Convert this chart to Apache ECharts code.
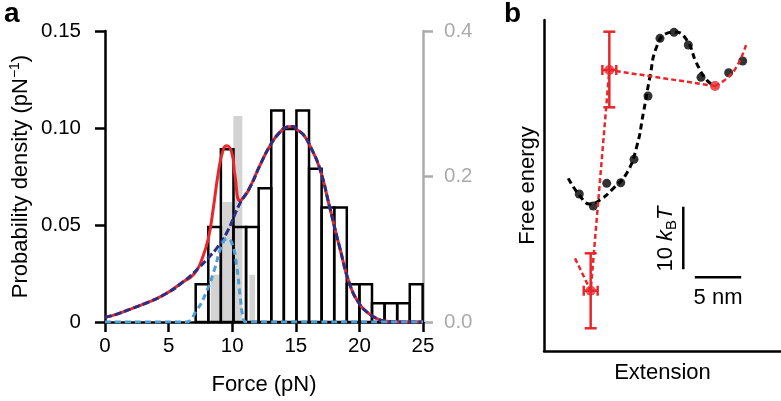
<!DOCTYPE html>
<html>
<head>
<meta charset="utf-8">
<script src="https://cdn.jsdelivr.net/npm/echarts@6.0.0/dist/echarts.min.js"></script>
<style>
html,body{margin:0;padding:0;background:#fff}
#chart{width:781px;height:401px}
</style>
</head>
<body>
<div id="chart"></div>
<script>
// ---- panel a : force histogram + fits ----
var binEdges = [7.13, 8.12, 9.11, 10.1, 11.09, 12.08, 13.07, 14.06, 15.05, 16.04, 17.03, 18.02, 19.01, 20.0, 20.99, 21.98, 22.97, 23.96, 24.97];
var binDensity = [0.0195, 0.049, 0.089, 0.049, 0.049, 0.069, 0.109, 0.0995, 0.109, 0.079, 0.059, 0.059, 0.0195, 0.0195, 0.0097, 0.0097, 0.0097, 0.0195];
// grey histogram on the right axis: [from, to, value]
var greyBins = [[8.31, 9.09, 0.065], [9.25, 10.04, 0.165], [10.09, 10.8, 0.283], [11.35, 11.79, 0.065]];

var totalX = [0, 1, 2.2, 3.5, 4.85, 6.16, 6.68, 7.2, 7.6, 8.12, 8.51, 8.91, 9.3, 9.57, 9.96, 10.22, 10.61, 11.0, 11.4, 12.2, 12.97, 13.7, 14.41, 14.8, 15.07, 15.6, 16.12, 16.9, 17.69, 18.47, 19.26, 20.05, 20.7, 21.3, 22, 23, 24, 25];
var totalY = [0.0024, 0.0042, 0.0072, 0.0105, 0.0148, 0.0208, 0.0228, 0.0265, 0.032, 0.043, 0.0584, 0.0771, 0.089, 0.0908, 0.0874, 0.0754, 0.0626, 0.065, 0.0695, 0.081, 0.0908, 0.0975, 0.1007, 0.1008, 0.0993, 0.0965, 0.0908, 0.0788, 0.0584, 0.0379, 0.0191, 0.0089, 0.0046, 0.002, 0.0005, 0, 0, 0];

var broadX = [0, 1, 2.2, 3.5, 4.85, 6.16, 7.47, 8.25, 8.78, 9.57, 10.6, 11.4, 12.2, 12.97, 13.7, 14.41, 14.8, 15.07, 15.6, 16.12, 16.9, 17.69, 18.47, 19.26, 20.05, 20.7, 21.3, 22, 23, 24, 25];
var broadY = [0.0024, 0.0042, 0.0072, 0.0105, 0.0148, 0.0208, 0.0285, 0.034, 0.038, 0.046, 0.061, 0.0695, 0.081, 0.0908, 0.0975, 0.1007, 0.1008, 0.0993, 0.0965, 0.0908, 0.0788, 0.0584, 0.0379, 0.0191, 0.0089, 0.0046, 0.002, 0.0005, 0, 0, 0];

var narrowX = [0, 6.3, 7.2, 8.0, 8.65, 9.1, 9.6, 9.96, 10.35, 10.61, 10.87, 11.1, 25];
var narrowY = [0, 0, 0.006, 0.016, 0.028, 0.038, 0.043, 0.041, 0.029, 0.014, 0.002, 0, 0];

// ---- panel b : free energy landscape (nm, kBT) ----
var dotX = [3.80, 5.31, 6.76, 8.27, 9.70, 11.21, 12.50, 14.01, 15.55, 16.92, 19.90, 21.41];
var dotY = [25.08, 23.16, 26.79, 26.88, 30.62, 40.73, 49.95, 50.91, 48.88, 43.72, 44.46, 46.33];
var curveX = [2.62, 3.80, 4.96, 6.03, 7.47, 8.91, 9.99, 10.70, 11.42, 12.14, 13.22, 14.12, 15.38, 16.45, 17.53, 18.43];
var curveY = [27.59, 24.92, 23.48, 24.12, 25.99, 28.39, 32.64, 37.97, 43.82, 48.61, 50.75, 50.96, 49.68, 45.96, 43.29, 42.33];
// red states: x, y, x error, y low, y high
var redStates = [[5.03, 9.63, 0.75, 3.63, 15.61], [7.04, 44.89, 0.75, 38.93, 51.01], [18.43, 42.33, 0, 42.33, 42.33]];
var redPath = [[3.34, 14.8], [5.03, 9.63], [7.04, 44.89], [18.43, 42.33]];
var redTail = [[18.43, 42.33], [19.69, 43.54], [20.76, 45.42], [21.77, 48.88]];
var energyBar = [[15.01, 23.05], [15.01, 13.05]];
var lengthBar = [[16.25, 11.77], [21.25, 11.77]];

var FONT = '"Liberation Sans", Arial, Helvetica, sans-serif';
var RED = '#e8272b', NAVY = '#2a2e86', LBLUE = '#4b9fd6', GREY = '#ababab';

function zip(xs, ys) {
	var out = [];
	for (var i = 0; i < xs.length; i++) out.push([xs[i], ys[i]]);
	return out;
}

var histData = [];
for (var i = 0; i < binDensity.length; i++) histData.push([binEdges[i], binEdges[i + 1], binDensity[i]]);

var rectItem = function (fill, stroke) {
	return function (params, api) {
		var p0 = api.coord([api.value(0), 0]);
		var p1 = api.coord([api.value(1), api.value(2)]);
		return {
			type: 'rect',
			shape: { x: p0[0], y: p1[1], width: p1[0] - p0[0], height: p0[1] - p1[1] },
			style: { fill: fill, stroke: stroke, lineWidth: stroke ? 2.5 : 0 }
		};
	};
};

var errItem = function (params, api) {
	var x = api.value(0), y = api.value(1), xe = api.value(2);
	var lo = api.coord([x, api.value(3)]), hi = api.coord([x, api.value(4)]);
	var l = api.coord([x - xe, y]), r = api.coord([x + xe, y]);
	var ls = { stroke: RED, lineWidth: 2.5 };
	var kids = [];
	if (hi[1] !== lo[1]) {
		kids.push({ type: 'line', shape: { x1: lo[0], y1: lo[1], x2: hi[0], y2: hi[1] }, style: ls });
		kids.push({ type: 'line', shape: { x1: lo[0] - 6, y1: lo[1], x2: lo[0] + 6, y2: lo[1] }, style: ls });
		kids.push({ type: 'line', shape: { x1: hi[0] - 6, y1: hi[1], x2: hi[0] + 6, y2: hi[1] }, style: ls });
	}
	if (xe > 0) {
		kids.push({ type: 'line', shape: { x1: l[0], y1: l[1], x2: r[0], y2: r[1] }, style: ls });
		kids.push({ type: 'line', shape: { x1: l[0], y1: l[1] - 5, x2: l[0], y2: l[1] + 5 }, style: ls });
		kids.push({ type: 'line', shape: { x1: r[0], y1: r[1] - 5, x2: r[0], y2: r[1] + 5 }, style: ls });
	}
	return { type: 'group', children: kids };
};

var chart = echarts.init(document.getElementById('chart'));

var option = {
	animation: false,
	backgroundColor: '#fff',
	textStyle: { fontFamily: FONT },
	grid: [
		{ left: 105, top: 31, width: 318, height: 293 },
		{ left: 544, top: 20, width: 237, height: 331 }
	],
	xAxis: [
		{
			gridIndex: 0, type: 'value', min: 0, max: 25, interval: 5,
			name: 'Force (pN)', nameLocation: 'middle', nameGap: 52,
			nameTextStyle: { fontSize: 22, color: '#000', fontFamily: FONT },
			axisLine: { onZero: false, lineStyle: { color: '#000', width: 2.5 } },
			axisTick: { length: 10, lineStyle: { color: '#000', width: 2.5 } },
			axisLabel: { fontSize: 20.5, color: '#000', margin: 14, fontFamily: FONT },
			splitLine: { show: false }
		},
		{
			gridIndex: 1, type: 'value', min: 0, max: 25.54,
			name: 'Extension', nameLocation: 'middle', nameGap: 11,
			nameTextStyle: { fontSize: 22, color: '#000', fontFamily: FONT, verticalAlign: 'top' },
			axisLine: { onZero: false, lineStyle: { color: '#000', width: 2.5 } },
			axisTick: { show: false }, axisLabel: { show: false }, splitLine: { show: false }
		}
	],
	yAxis: [
		{
			gridIndex: 0, type: 'value', min: 0, max: 0.15, interval: 0.05,
			name: '{n|Probability density (pN}{s|−1}{n|)}', nameLocation: 'middle', nameGap: 71,
			nameTextStyle: {
				color: '#000', fontFamily: FONT,
				rich: {
					n: { fontSize: 22, color: '#000', fontFamily: FONT, lineHeight: 26 },
					s: { fontSize: 14, color: '#000', fontFamily: FONT, verticalAlign: 'top', lineHeight: 26, padding: [0, 0, 8, 0] }
				}
			},
			axisLine: { onZero: false, lineStyle: { color: '#000', width: 2.5 } },
			axisTick: { length: 10, lineStyle: { color: '#000', width: 2.5 } },
			axisLabel: {
				fontSize: 20.5, color: '#000', margin: 24, fontFamily: FONT,
				formatter: function (v) { return v === 0 ? '0' : v.toFixed(2); }
			},
			splitLine: { show: false }
		},
		{
			gridIndex: 0, type: 'value', position: 'right', min: 0, max: 0.4, interval: 0.2,
			axisLine: { show: true, onZero: false, lineStyle: { color: GREY, width: 2.5 } },
			axisTick: { show: true, length: 10, lineStyle: { color: GREY, width: 2.5 } },
			axisLabel: {
				fontSize: 20.5, color: GREY, margin: 21, fontFamily: FONT,
				formatter: function (v) { return v.toFixed(1); }
			},
			splitLine: { show: false }
		},
		{
			gridIndex: 1, type: 'value', min: 0, max: 52.88,
			name: 'Free energy', nameLocation: 'middle', nameGap: 5,
			nameTextStyle: { fontSize: 22, color: '#000', fontFamily: FONT },
			axisLine: { onZero: false, lineStyle: { color: '#000', width: 2.5 } },
			axisTick: { show: false }, axisLabel: { show: false }, splitLine: { show: false }
		}
	],
	graphic: [
		{ type: 'text', left: 4, top: 0, style: { text: 'a', font: 'bold 28px ' + FONT, fill: '#000' } },
		{ type: 'text', left: 504, top: 0, style: { text: 'b', font: 'bold 28px ' + FONT, fill: '#000' } },
		{
			type: 'text', x: 666, y: 239, rotation: Math.PI / 2,
			style: {
				text: '{n|10 }{i|k}{s|B}{i|T}', align: 'center', verticalAlign: 'middle', fill: '#000',
				rich: {
					n: { fontSize: 22, fontFamily: FONT, lineHeight: 26 },
					i: { fontSize: 22, fontFamily: FONT, fontStyle: 'italic', lineHeight: 26 },
					s: { fontSize: 15, fontFamily: FONT, verticalAlign: 'bottom', lineHeight: 26, padding: [8, 0, 0, 0] }
				}
			}
		},
		{ type: 'text', x: 718, y: 298, style: { text: '5 nm', font: '22px ' + FONT, fill: '#000', align: 'center', verticalAlign: 'middle' } }
	],
	series: [
		{ type: 'custom', xAxisIndex: 0, yAxisIndex: 1, renderItem: rectItem('#d3d3d3', null), data: greyBins, z: 1 },
		{ type: 'custom', xAxisIndex: 0, yAxisIndex: 0, renderItem: rectItem('none', '#000'), data: histData, z: 2 },
		{
			type: 'line', xAxisIndex: 0, yAxisIndex: 0, data: zip(totalX, totalY), smooth: 0.5,
			showSymbol: false, lineStyle: { color: RED, width: 3 }, z: 3
		},
		{
			type: 'line', xAxisIndex: 0, yAxisIndex: 0, data: zip(broadX, broadY), smooth: 0.5,
			showSymbol: false, lineStyle: { color: NAVY, width: 3, type: [7, 3] }, z: 4
		},
		{
			type: 'line', xAxisIndex: 0, yAxisIndex: 0, data: zip(narrowX, narrowY), smooth: 0.5,
			showSymbol: false, lineStyle: { color: LBLUE, width: 3, type: [6, 4] }, z: 5
		},
		// panel b
		{
			type: 'line', xAxisIndex: 1, yAxisIndex: 2, data: zip(curveX, curveY), smooth: 0.5,
			showSymbol: false, lineStyle: { color: '#000', width: 3, type: [6, 4] }, z: 3
		},
		{
			type: 'scatter', xAxisIndex: 1, yAxisIndex: 2, data: zip(dotX, dotY), symbolSize: 9,
			itemStyle: { color: '#000' }, z: 4
		},
		{
			type: 'line', xAxisIndex: 1, yAxisIndex: 2, data: redPath, showSymbol: false,
			lineStyle: { color: RED, width: 2.5, type: [5, 3] }, z: 5
		},
		{
			type: 'line', xAxisIndex: 1, yAxisIndex: 2, data: redTail, smooth: 0.5, showSymbol: false,
			lineStyle: { color: RED, width: 2.5, type: [5, 3] }, z: 5
		},
		{ type: 'custom', xAxisIndex: 1, yAxisIndex: 2, renderItem: errItem, data: redStates, z: 6 },
		{
			type: 'scatter', xAxisIndex: 1, yAxisIndex: 2, data: redStates.map(function (d) { return [d[0], d[1]]; }),
			symbolSize: 10, itemStyle: { color: RED }, z: 7
		},
		{
			type: 'line', xAxisIndex: 1, yAxisIndex: 2, data: energyBar, showSymbol: false,
			lineStyle: { color: '#000', width: 2.5 }, z: 5
		},
		{
			type: 'line', xAxisIndex: 1, yAxisIndex: 2, data: lengthBar, showSymbol: false,
			lineStyle: { color: '#000', width: 2.5 }, z: 5
		}
	]
};

chart.setOption(option);
</script>
</body>
</html>
